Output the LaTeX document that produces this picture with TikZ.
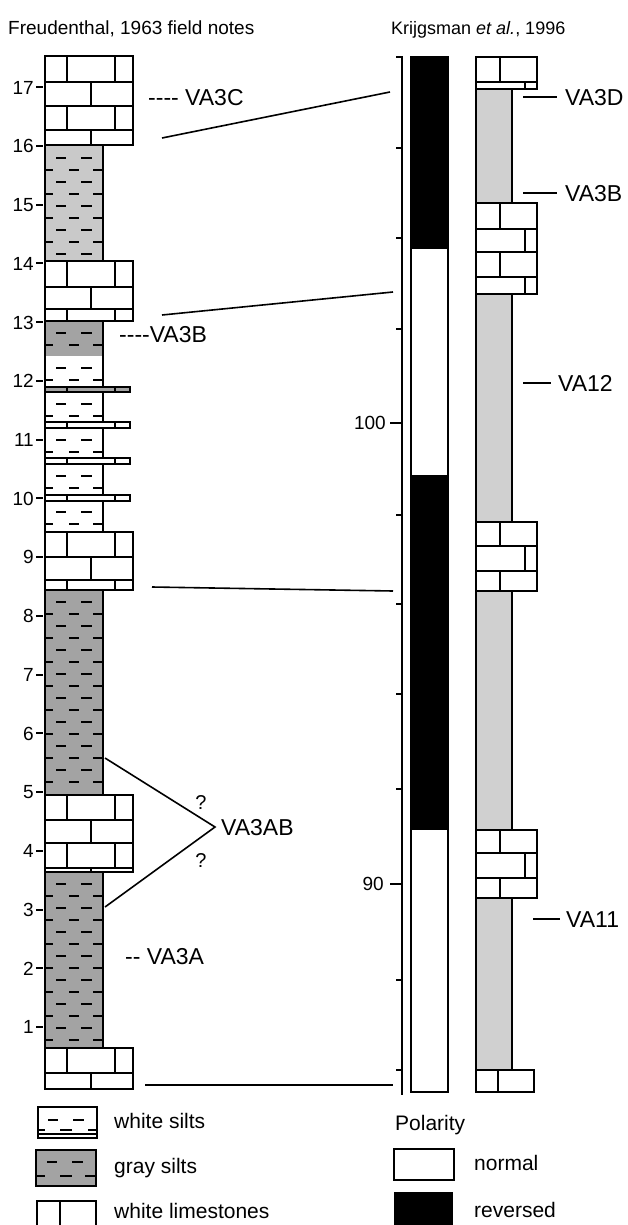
\documentclass[tikz,border=0pt]{standalone}
\usepackage{fontspec}
\setmainfont{Liberation Sans}
\definecolor{darksilt}{HTML}{A3A3A3}
\definecolor{lightsilt}{HTML}{C9C9C9}
\definecolor{colgray}{HTML}{D0D0D0}
\tikzset{
  bord/.style={line width=2pt},
  lsline/.style={line width=2pt, fill=white},
  siltdash/.style={line width=2.5pt},
  corr/.style={line width=1.6pt},
  thinbord/.style={line width=1.3pt},
  marker/.style={line width=1.5pt},
  axisline/.style={line width=2pt},
  vlab/.style={font=\fontsize{23}{26}\selectfont, inner sep=0pt, anchor=base west},
  ticklab/.style={font=\fontsize{19}{22}\selectfont, inner sep=0pt, anchor=base east},
  titlelab/.style={font=\fontsize{19}{22}\selectfont, inner sep=0pt, anchor=base west},
  leglab/.style={font=\fontsize{21}{24}\selectfont, inner sep=0pt, anchor=base west},
  qlab/.style={font=\fontsize{20}{23}\selectfont, inner sep=0pt, anchor=base},
}
\newcommand{\siltpat}[2]{%
  \pgfmathtruncatemacro{\siltn}{floor((#2-#1-6)/12)-1}%
  \foreach \k in {0,...,\siltn}{%
    \pgfmathsetmacro{\yy}{#1+12+12*\k}%
    \ifodd\k\relax
      \draw[siltdash] (45,\yy) -- (53,\yy) (69,\yy) -- (79,\yy) (93,\yy) -- (103,\yy);%
    \else
      \draw[siltdash] (56,\yy) -- (66,\yy) (81,\yy) -- (92,\yy);%
    \fi
  }}
% left limestone rows
\newcommand{\lsP}[2]{\draw[lsline] (45,#1) rectangle (133,#2); \draw[bord] (67,#1) -- (67,#2) (115,#1) -- (115,#2);}
\newcommand{\lsQ}[2]{\draw[lsline] (45,#1) rectangle (133,#2); \draw[bord] (91,#1) -- (91,#2);}
% right limestone rows
\newcommand{\rsP}[2]{\draw[lsline] (476,#1) rectangle (537,#2); \draw[bord] (500,#1) -- (500,#2);}
\newcommand{\rsQ}[2]{\draw[lsline] (476,#1) rectangle (537,#2); \draw[bord] (525,#1) -- (525,#2);}
\begin{document}
\begin{tikzpicture}[x=1pt,y=-1pt]
\useasboundingbox[fill=white] (0,0) rectangle (628,1225);

% titles
\node[titlelab] (title1) at (8,35) {Freudenthal, 1963 field notes};
\node[titlelab, font=\fontsize{18}{21}\selectfont] (title2) at (391,35) {Krijgsman \textit{et al.}, 1996};

% ---------- left column: silts ----------
\fill[lightsilt] (45,145) rectangle (103,261);
\fill[darksilt] (45,321) rectangle (103,356);
\fill[white] (45,356) rectangle (103,532);
\fill[darksilt] (45,590) rectangle (103,795);
\fill[darksilt] (45,872) rectangle (103,1048);
\siltpat{146}{261}
\siltpat{321}{356}
\siltpat{356}{389}
\siltpat{392}{423}
\siltpat{428}{459}
\siltpat{464}{495}
\siltpat{500}{532}
\siltpat{590}{795}
\siltpat{872}{1048}
\draw[bord] (45,145) rectangle (103,261);
\draw[bord] (45,321) rectangle (103,532);
\draw[bord] (45,590) rectangle (103,795);
\draw[bord] (45,872) rectangle (103,1048);

% thin limestone beds in white silts
\draw[line width=1.8pt, fill=darksilt] (45,387) rectangle (130,392);
\draw[line width=1.8pt] (67,387) -- (67,392) (115,387) -- (115,392);
\foreach \b in {422,458,495}{
  \draw[line width=1.8pt, fill=white] (45,\b) rectangle (130,\b+6);
  \draw[line width=1.8pt] (67,\b) -- (67,\b+6) (115,\b) -- (115,\b+6);
}

% limestone blocks
\lsP{56}{82}\lsQ{82}{106}\lsP{106}{130}\lsQ{130}{145}
\lsP{261}{287}\lsQ{287}{309}\lsP{309}{321}
\lsP{532}{557}\lsQ{557}{580}\lsP{580}{590}
\lsP{795}{820}\lsQ{820}{843}\lsP{843}{868}\lsQ{868}{872}
\lsP{1048}{1073}\lsQ{1073}{1089}

% left depth ticks
\foreach \m in {1,...,17}{
  \pgfmathsetmacro{\ty}{1085.7-58.73*\m}
  \draw[line width=2pt] (36,\ty) -- (43,\ty);
  \node[ticklab] (t\m) at (34,\ty+6.8) {\m};
}

% left labels
\node[vlab] (va3c) at (148,105.2) {-{}-{}-{}- VA3C};
\node[vlab] (va3bl) at (119,342.2) {-{}-{}-{}-VA3B};
\node[vlab] (va3a) at (125,964.2) {-{}- VA3A};

% VA3AB bracket
\coordinate (ab1) at (105,758);
\coordinate (ab2) at (215,827);
\coordinate (ab3) at (105,907);
\draw[corr] (ab1) -- (ab2) -- (ab3);
\node[vlab] (va3ab) at (221,835.2) {VA3AB};
\node[qlab] (q1) at (201,809.5) {?};
\node[qlab] (q2) at (201,867.5) {?};

% ---------- scale axis ----------
\draw[axisline] (396,57) -- (402,57) -- (402,1095);
\foreach \ty in {148,238,329,515,604,694,789,980,1070}{
  \draw[axisline] (396,\ty) -- (402,\ty);
}
\draw[axisline] (390,423) -- (402,423);
\draw[axisline] (390,884) -- (402,884);
\node[ticklab] (s100) at (386,429.8) {100};
\node[ticklab] (s90) at (384,890.8) {90};

% ---------- polarity column ----------
\draw[thinbord, fill=white] (411,57) rectangle (448,1092);
\fill[black] (411,57) rectangle (448,249);
\fill[black] (411,475) rectangle (448,830);
\draw[thinbord] (411,57) rectangle (448,1092);

% ---------- right lithology column ----------
\draw[line width=1.4pt, fill=colgray] (476,57) rectangle (512,1092);
\rsP{57}{82}\rsQ{82}{89}
\rsP{203}{229}\rsQ{229}{252}\rsP{252}{277}\rsQ{277}{294}
\rsP{522}{546}\rsQ{546}{571}\rsP{571}{591}
\rsP{830}{853}\rsQ{853}{878}\rsP{878}{898}
\draw[lsline] (476,1070) rectangle (534,1092);
\draw[bord] (498,1070) -- (498,1092);

% right labels
\coordinate (m1a) at (523,97);  \coordinate (m1b) at (557,97);
\coordinate (m2a) at (523,193); \coordinate (m2b) at (557,193);
\coordinate (m3a) at (523,383); \coordinate (m3b) at (551,383);
\coordinate (m4a) at (533,919); \coordinate (m4b) at (560,919);
\draw[marker] (m1a) -- (m1b);
\draw[marker] (m2a) -- (m2b);
\draw[marker] (m3a) -- (m3b);
\draw[marker] (m4a) -- (m4b);
\node[vlab] (va3d) at (565,105.2) {VA3D};
\node[vlab] (va3br) at (565,201.2) {VA3B};
\node[vlab] (va12) at (558,391.2) {VA12};
\node[vlab] (va11) at (566,927.2) {VA11};

% ---------- correlation lines ----------
\coordinate (c1a) at (162,138);  \coordinate (c1b) at (390,92);
\coordinate (c2a) at (162,315);  \coordinate (c2b) at (393,292);
\coordinate (c3a) at (152,587);  \coordinate (c3b) at (393,591);
\coordinate (c4a) at (145,1085); \coordinate (c4b) at (393,1085);
\draw[corr] (c1a) -- (c1b);
\draw[corr] (c2a) -- (c2b);
\draw[corr] (c3a) -- (c3b);
\draw[corr] (c4a) -- (c4b);

% ---------- legend ----------
\draw[bord, fill=white] (38,1107) rectangle (97,1138);
\draw[bord] (38,1134) -- (97,1134);
\draw[siltdash] (48,1120) -- (58,1120) (73,1120) -- (84,1120);
\draw[siltdash] (38,1130) -- (45,1130) (60,1130) -- (72,1130) (88,1130) -- (97,1130);
\node[leglab] (lw) at (114,1128) {white silts};

\draw[bord, fill=darksilt] (36,1150) rectangle (96,1186);
\draw[siltdash] (47,1162) -- (57,1162) (72,1162) -- (83,1162);
\draw[siltdash] (36,1176) -- (45,1176) (60,1176) -- (72,1176) (85,1176) -- (96,1176);
\node[leglab] (lg) at (114,1173) {gray silts};

\draw[bord, fill=white] (37,1201) rectangle (96,1240);
\draw[bord] (60,1201) -- (60,1240);
\node[leglab] (ll) at (114,1218) {white limestones};

\node[leglab] (lp) at (395,1130) {Polarity};
\draw[line width=1.5pt, fill=white] (394,1149) rectangle (454,1180);
\node[leglab] (ln) at (474,1170) {normal};
\fill[black] (394,1192) rectangle (453,1240);
\node[leglab] (lr) at (474,1217) {reversed};
\end{tikzpicture}
\end{document}
